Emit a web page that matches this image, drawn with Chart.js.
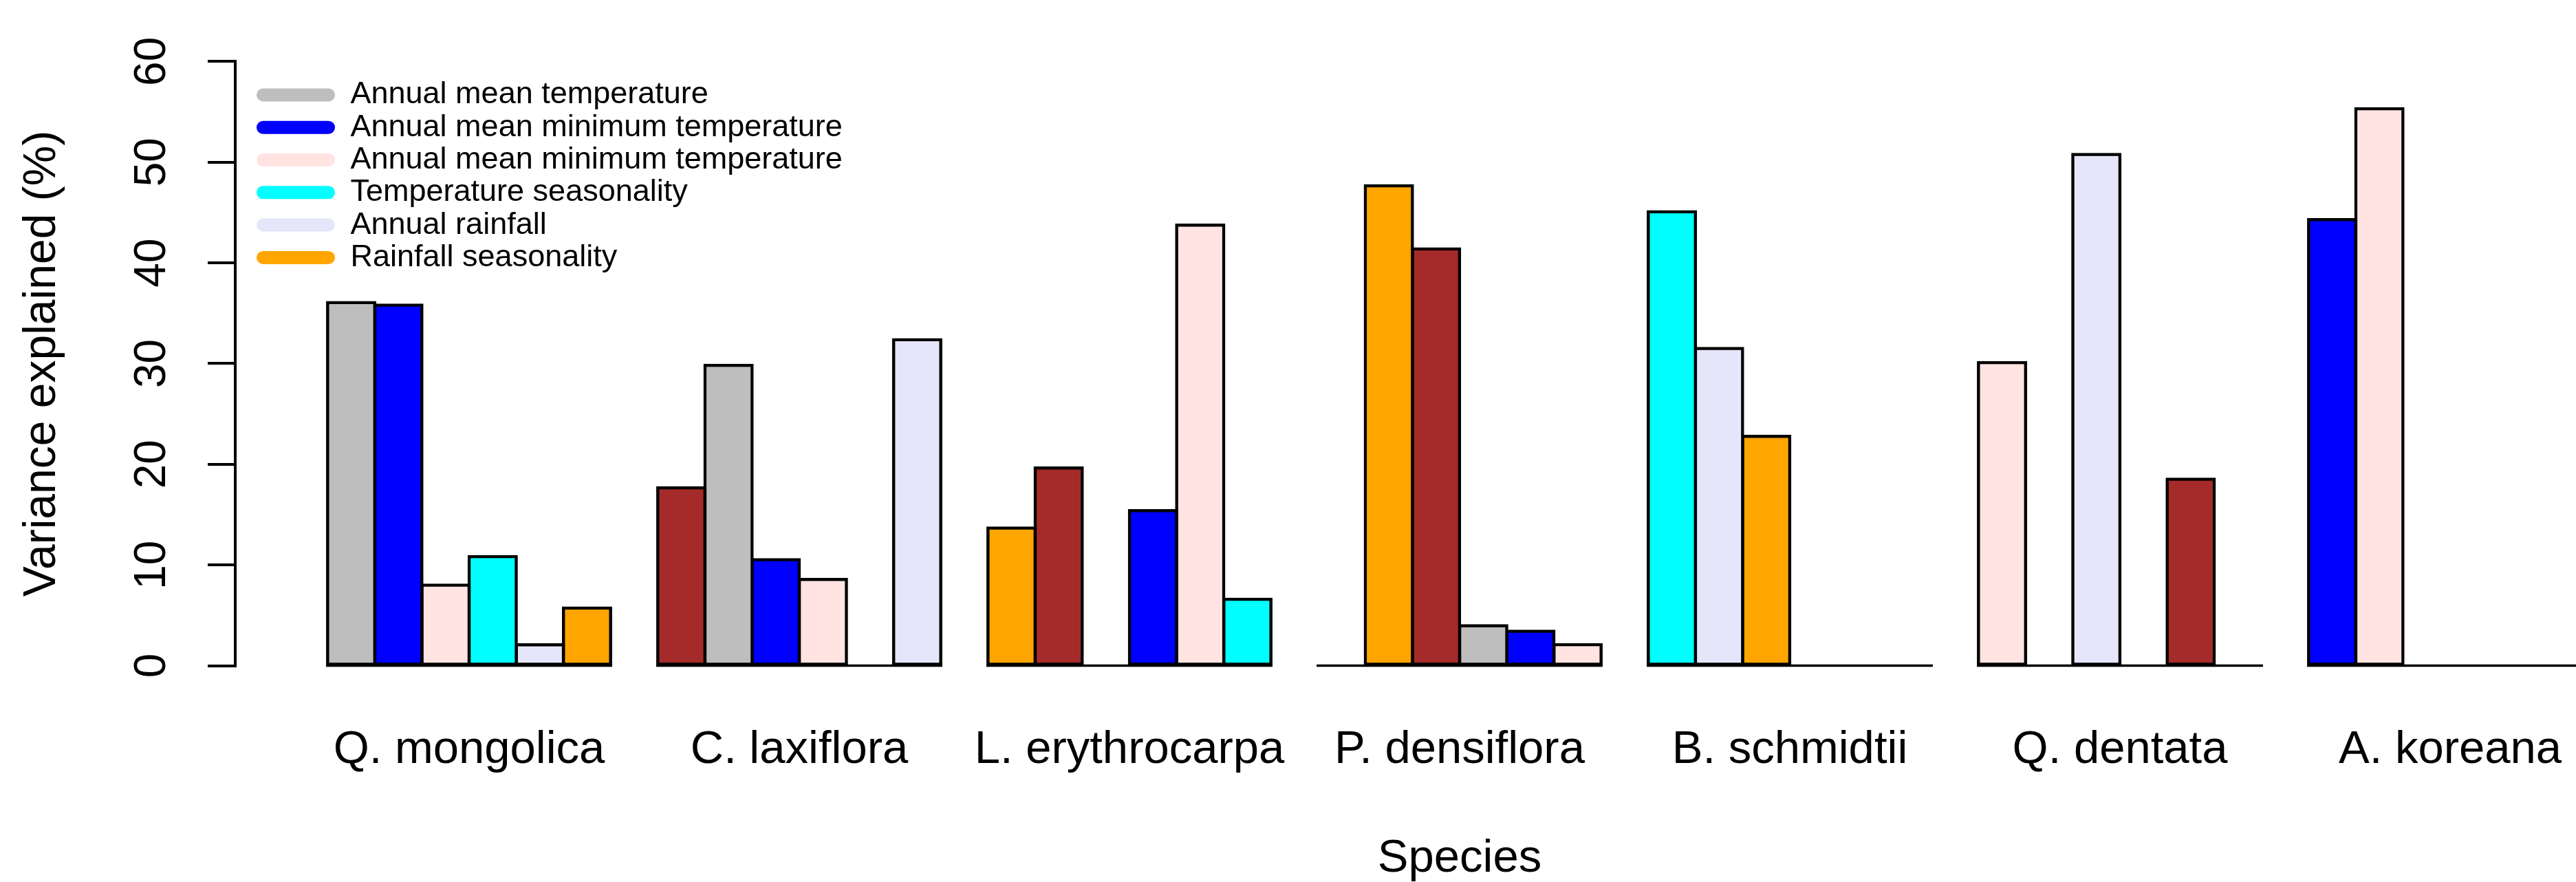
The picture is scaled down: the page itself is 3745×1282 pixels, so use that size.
<!DOCTYPE html>
<html>
<head>
<meta charset="utf-8">
<script src="https://cdn.jsdelivr.net/npm/chart.js@4.4.1/dist/chart.umd.min.js"></script>
<style>
  html, body { margin: 0; padding: 0; background: #fff; overflow: hidden; }
  /* plot runs a bit past the right edge, like the original */
  #wrap { position: relative; width: 3810px; height: 1282px; }
</style>
</head>
<body>
<div id="wrap"><canvas id="chart"></canvas></div>
<script>
// species on the x axis
var species = ["Q. mongolica", "C. laxiflora", "L. erythrocarpa", "P. densiflora", "B. schmidtii", "Q. dentata", "A. koreana"];

// variance explained (%), one array per bar position inside a group (0 = empty slot)
var bar1 = [36.06, 17.66, 13.66, 0, 45.07, 30.09, 44.29];
var bar2 = [35.8, 29.82, 19.62, 47.66, 31.5, 0, 55.31];
var bar3 = [8.0, 10.52, 0, 41.39, 22.76, 50.76, 0];
var bar4 = [10.83, 8.56, 15.39, 3.97, 0, 0, 0];
var bar5 = [2.07, 0, 43.74, 3.42, 0, 18.52, 0];
var bar6 = [5.73, 32.36, 6.6, 2.09, 0, 0, 0];

// fill of every bar (R colour names)
var fill1 = ["gray", "brown", "orange", "white", "cyan", "mistyrose", "blue"];
var fill2 = ["blue", "gray", "brown", "orange", "lavender", "white", "mistyrose"];
var fill3 = ["mistyrose", "blue", "white", "brown", "orange", "lavender", "white"];
var fill4 = ["cyan", "mistyrose", "blue", "gray", "white", "white", "white"];
var fill5 = ["lavender", "white", "mistyrose", "blue", "white", "brown", "white"];
var fill6 = ["orange", "lavender", "cyan", "mistyrose", "white", "white", "white"];

var yTicks = [0, 10, 20, 30, 40, 50, 60];

var legendLabels = ["Annual mean temperature", "Annual mean minimum temperature", "Annual mean minimum temperature",
  "Temperature seasonality", "Annual rainfall", "Rainfall seasonality"];
var legendFills = ["gray", "blue", "mistyrose", "cyan", "lavender", "orange"];

var rcol = {
  gray: "#BEBEBE", blue: "#0000FF", mistyrose: "#FFE4E1", cyan: "#00FFFF",
  lavender: "#E6E6FA", orange: "#FFA500", brown: "#A52A2A", white: "#FFFFFF"
};

var bars = [bar1, bar2, bar3, bar4, bar5, bar6];
var fills = [fill1, fill2, fill3, fill4, fill5, fill6];

Chart.defaults.font.family = "'Liberation Sans', Arial, sans-serif";
Chart.defaults.color = "#000";

var datasets = [];
for (var k = 0; k < bars.length; k++) {
  datasets.push({
    label: "bar " + (k + 1),
    data: bars[k],
    backgroundColor: fills[k].map(function (c) { return rcol[c]; }),
    borderColor: "#000",
    borderWidth: 4.5,
    borderSkipped: false,
    inflateAmount: 2.25, //border centred on the bar edge, like R
    categoryPercentage: 6 / 7,
    barPercentage: 1
  });
}

var rStyle = {
  id: "rStyle",
  afterLayout: function (chart) {
    //y axis sits left of the plot, as R draws it
    var y = chart.scales.y;
    y.right = 342;
    y.width = y.right - y.left;
    //legend in the top left corner
    var lg = chart.legend;
    lg.left = 370.7;
    lg.top = 113.1;
    lg.right = lg.left + lg.width;
    lg.bottom = lg.top + lg.height;
  },
  afterDatasetsDraw: function (chart) {
    //base line under each whole group (zero bars included)
    var ctx = chart.ctx;
    var y0 = chart.scales.y.getPixelForValue(0);
    ctx.save();
    ctx.strokeStyle = "#000";
    ctx.lineWidth = 3.5;
    for (var i = 0; i < species.length; i++) {
      var l = Infinity, r = -Infinity;
      for (var d = 0; d < chart.data.datasets.length; d++) {
        var b = chart.getDatasetMeta(d).data[i];
        l = Math.min(l, b.x - b.width / 2);
        r = Math.max(r, b.x + b.width / 2);
      }
      ctx.beginPath();
      ctx.moveTo(l - 2.25, y0);
      ctx.lineTo(r + 2.25, y0);
      ctx.stroke();
    }
    ctx.restore();
  }
};

new Chart(document.getElementById("chart"), {
  type: "bar",
  data: { labels: species, datasets: datasets },
  plugins: [rStyle],
  options: {
    responsive: true,
    maintainAspectRatio: false,
    animation: false,
    layout: { padding: { left: 0, top: 89.3, right: 8, bottom: 0 } },
    plugins: {
      tooltip: { enabled: false },
      legend: {
        position: "chartArea",
        align: "start",
        labels: {
          font: { size: 45 },
          color: "#000",
          boxWidth: 114,
          boxHeight: 19,
          padding: 2.3,
          useBorderRadius: true,
          borderRadius: 9.5,
          generateLabels: function () {
            return legendLabels.map(function (t, i) {
              return {
                text: t,
                fillStyle: rcol[legendFills[i]],
                strokeStyle: "rgba(0,0,0,0)",
                lineWidth: 0,
                borderRadius: 9.5,
                hidden: false,
                index: i
              };
            });
          }
        }
      }
    },
    scales: {
      x: {
        offset: true,
        grid: { display: false, drawTicks: false },
        border: { display: false },
        ticks: { font: { size: 67 }, color: "#000", padding: 83, autoSkip: false, maxRotation: 0, minRotation: 0 },
        title: { display: true, text: "Species", font: { size: 67, lineHeight: 1 }, color: "#000", padding: 0 },
        afterFit: function (s) { s.height = 314.5; }
      },
      y: {
        min: 0,
        max: 60,
        afterBuildTicks: function (s) { s.ticks = yTicks.map(function (v) { return { value: v }; }); },
        afterFit: function (s) { s.width = 442; },
        grid: { display: true, drawOnChartArea: false, drawTicks: true, tickLength: 40, color: "#000", lineWidth: 4 },
        border: { display: true, color: "#000", width: 4 },
        ticks: { font: { size: 64 }, color: "#000", minRotation: 90, maxRotation: 90, crossAlign: "center", padding: 44 },
        title: { display: true, text: "Variance explained (%)", font: { size: 66, lineHeight: 1 }, color: "#000", padding: { top: 29, bottom: 0 } }
      }
    }
  }
});
</script>
</body>
</html>
